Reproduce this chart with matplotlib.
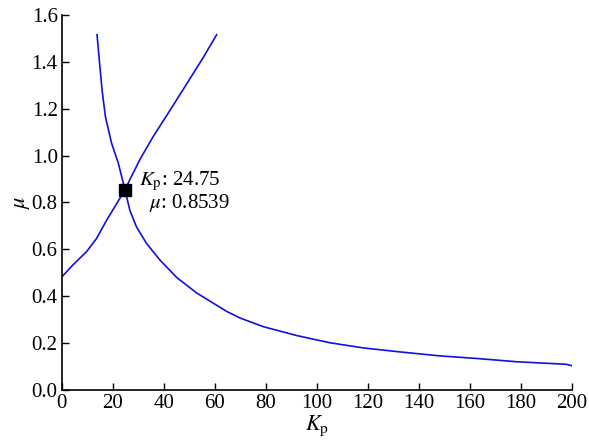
import matplotlib
matplotlib.use('Agg')
import matplotlib.pyplot as plt

plt.rcParams['font.family'] = ['Liberation Serif', 'DejaVu Serif']
plt.rcParams['mathtext.fontset'] = 'stix'

# decreasing branch
kp_dec = [13.8, 14.6, 15.8, 17.1, 19.5, 22.1, 23.4, 24.75, 26.7, 29.3, 33.2, 38.4,
          45.0, 52.8, 64.6, 69.8, 78.9, 92.0, 105.1, 118.2, 132.5, 148.2, 162.6,
          178.3, 197.9, 200.0]
mu_dec = [1.516, 1.418, 1.277, 1.165, 1.053, 0.969, 0.913, 0.854, 0.765, 0.695, 0.625, 0.555,
          0.480, 0.414, 0.335, 0.307, 0.270, 0.232, 0.201, 0.179, 0.162, 0.145, 0.134,
          0.120, 0.109, 0.103]

# increasing branch
kp_inc = [0.0, 4.4, 9.7, 13.6, 17.5, 21.4, 24.75, 26.7, 30.6, 35.8, 42.4, 48.9, 55.4, 60.7]
mu_inc = [0.482, 0.534, 0.590, 0.646, 0.723, 0.793, 0.854, 0.898, 0.983, 1.081, 1.193,
          1.305, 1.418, 1.516]

# crossing point
kp_cross = 24.75
mu_cross = 0.8539

fig = plt.figure(figsize=(5.89, 4.42), dpi=100)
ax = fig.add_axes([0.105, 0.118, 0.866, 0.848])

ax.plot(kp_dec, mu_dec, color='#1010e0', lw=1.2)
ax.plot(kp_inc, mu_inc, color='#1010e0', lw=1.2)
ax.plot([kp_cross], [mu_cross], 's', color='black', markersize=8.5, zorder=5)

ax.text(kp_cross + 5.5, mu_cross - 0.01,
        r'$K_{\mathrm{p}}$: %.2f' % kp_cross + '\n' + r'  $\mu$: %.4f' % mu_cross,
        fontsize=15, va='center', ha='left', linespacing=0.95)

ax.set_xlim(0, 200)
ax.set_ylim(0, 1.6)
ax.set_xticks(range(0, 201, 20))
ax.set_yticks([i * 0.2 for i in range(9)])
ax.set_yticklabels(['%.1f' % (i * 0.2) for i in range(9)])

ax.spines['top'].set_visible(False)
ax.spines['right'].set_visible(False)
ax.spines['left'].set_linewidth(1.2)
ax.spines['bottom'].set_linewidth(1.2)
ax.tick_params(direction='in', length=5, width=1, labelsize=15)
ax.tick_params(axis='y', pad=3)
ax.tick_params(axis='x', pad=3)

ax.set_xlabel(r'$K_{\mathrm{p}}$', fontsize=16, labelpad=0)
ax.set_ylabel(r'$\mu$', fontsize=16, labelpad=0)

fig.savefig('out.png', dpi=100)
